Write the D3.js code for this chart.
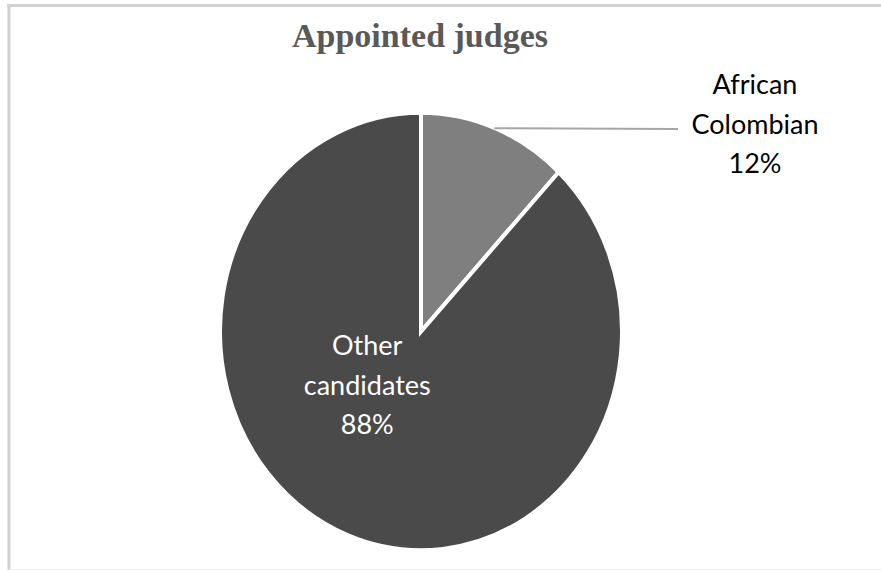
<!DOCTYPE html>
<html>
<head>
<meta charset="utf-8">
<script src="https://cdn.jsdelivr.net/npm/d3@7"></script>
<style>
  html, body { margin: 0; padding: 0; background: #fff; overflow: hidden; }
  svg { display: block; }
</style>
</head>
<body>
<svg id="chart" width="881" height="571"></svg>
<script>
// Share of appointed judges by group
const categories = ["African Colombian", "Other candidates"];
const shares = [12, 88];
const sliceColors = ["#7f7f7f", "#4a4a4a"];
const labelLines = [["African", "Colombian", "12%"], ["Other", "candidates", "88%"]];
const title = "Appointed judges";

const W = 881, H = 571;
const svg = d3.select("#chart");

// chart frame: top and left edges in grey, bottom edge faint, right edge cut off
svg.append("line")
  .attr("x1", 7).attr("x2", W).attr("y1", 5.5).attr("y2", 5.5)
  .attr("stroke", "#d2d2d2").attr("stroke-width", 3);
svg.append("line")
  .attr("x1", 9).attr("x2", 9).attr("y1", 4).attr("y2", 570)
  .attr("stroke", "#d2d2d2").attr("stroke-width", 3);
svg.append("line")
  .attr("x1", 9).attr("x2", W).attr("y1", 569.5).attr("y2", 569.5)
  .attr("stroke", "#ececec").attr("stroke-width", 1);

// title
svg.append("text")
  .attr("x", 420).attr("y", 47)
  .attr("text-anchor", "middle")
  .attr("font-family", "'Liberation Serif', 'Times New Roman', serif")
  .attr("font-weight", "bold")
  .attr("font-size", 34)
  .attr("fill", "#595959")
  .text(title);

// pie geometry (slightly taller than wide)
const cx = 421, cy = 331.5;
const rx = 199, ry = 216.5;
const R = rx + 2;           // outer radius incl. half of the white stroke
const sy = ry / rx;

const pie = d3.pie().sort(null).value(d => d.value);
const arcs = pie(categories.map((c, i) => ({ name: c, value: shares[i], i })));
const arc = d3.arc().innerRadius(0).outerRadius(R);

const g = svg.append("g")
  .attr("transform", `translate(${cx},${cy}) scale(1,${sy})`);

g.selectAll("path.slice")
  .data(arcs)
  .join("path")
  .attr("class", "slice")
  .attr("d", arc)
  .attr("fill", d => sliceColors[d.data.i])
  .attr("stroke", "#fff")
  .attr("stroke-width", 4)
  .attr("vector-effect", "non-scaling-stroke");

// leader line for the small slice: from outer edge at mid-angle to the label
const a0 = arcs[0];
const mid0 = (a0.startAngle + a0.endAngle) / 2;
const lx0 = cx + rx * Math.sin(mid0);
const ly0 = cy - ry * Math.cos(mid0);
svg.append("path")
  .attr("d", d3.line()([[lx0, ly0 - 2], [678, 129]]))
  .attr("fill", "none")
  .attr("stroke", "#a6a6a6")
  .attr("stroke-width", 2);

// labels
const labelFont = "Lato, 'Noto Sans', sans-serif";
const labelPos = [
  { x: 755, y: 94, color: "#000" },
  { x: cx - 0.27 * rx, y: cy + 23.5, color: "#fff" }
];
const lineGap = 39.5;

labelLines.forEach((lines, i) => {
  const t = svg.append("text")
    .attr("text-anchor", "middle")
    .attr("font-family", labelFont)
    .attr("font-size", 27)
    .attr("fill", labelPos[i].color);
  lines.forEach((s, k) => {
    t.append("tspan")
      .attr("x", labelPos[i].x)
      .attr("y", labelPos[i].y + k * lineGap)
      .text(s);
  });
});
</script>
</body>
</html>
